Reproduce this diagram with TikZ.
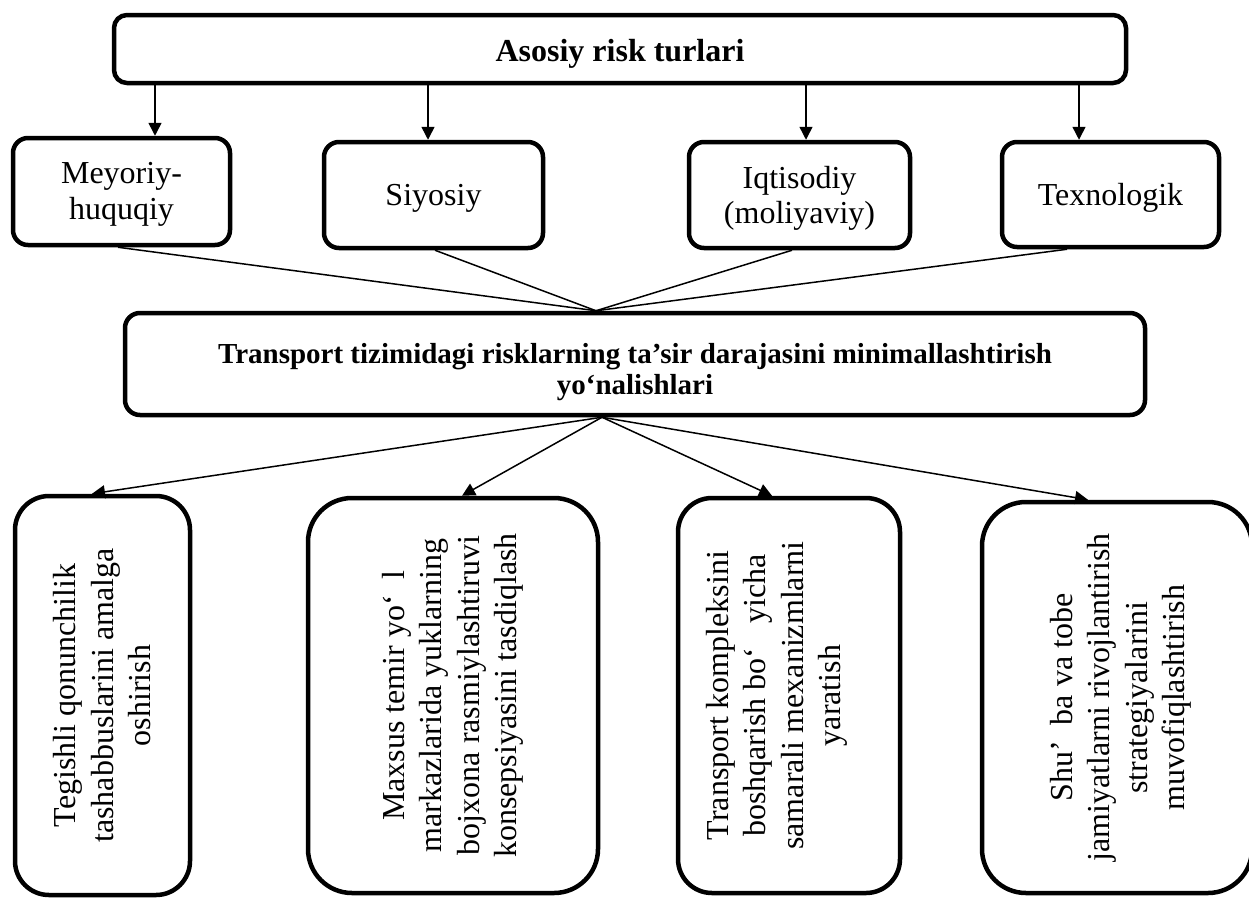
\documentclass[tikz,border=0pt]{standalone}
\usepackage{fontspec}
\setmainfont{Liberation Serif}
\usetikzlibrary{arrows.meta,calc}

% move the ink of a box without changing the size TikZ sees
\newcommand\nudge[2]{\raisebox{#1}[\height][\depth]{#2}}
% centred lines of text
\newcommand\lines[1]{\begin{tabular}{@{}c@{}}#1\end{tabular}}
% vertical (rotated) multi-line text for the tall boxes, nudged sideways
\newcommand\uptext[3]{\rotatebox{90}{\nudge{#1}{\parbox{#2}{\centering #3}}}}

\begin{document}
\begin{tikzpicture}[x=1pt,y=-1pt,
  box/.style={draw, line width=4.5pt, rounded corners=#1, inner sep=0pt,
              align=center, fill=white},
  box/.default=15pt,
  link/.style={line width=1.5pt},
  arr/.style={line width=1.5pt, -{Triangle[width=13pt,length=13pt]}},
  headfont/.style={font=\fontsize{32}{36}\selectfont\bfseries},
  midfont/.style={font=\fontsize{29}{31}\selectfont\bfseries},
  kindfont/.style={font=\fontsize{32}{35.5}\selectfont},
  wayfont/.style={font=\fontsize{32}{37.5}\selectfont}
]
\clip (0,0) rectangle (1249,897);
\fill[white] (0,0) rectangle (1249,897);

% main heading
\node[box=13pt, headfont, minimum width=1012pt, minimum height=68pt] (top) at (620,49)
  {\nudge{-5pt}{Asosiy risk turlari}};

% risk kinds
\node[box, kindfont, minimum width=217pt, minimum height=107pt] (k1) at (121.5,191.5)
  {\nudge{-3pt}{\lines{Meyoriy-\\huquqiy}}};
\node[box, kindfont, minimum width=219pt, minimum height=106pt] (k2) at (433.5,195)
  {\nudge{-3pt}{Siyosiy}};
\node[box, kindfont, minimum width=221pt, minimum height=106pt] (k3) at (799.5,195)
  {\nudge{-4pt}{\lines{Iqtisodiy\\(moliyaviy)}}};
\node[box, kindfont, minimum width=217pt, minimum height=105pt] (k4) at (1110.5,194.5)
  {\nudge{-3pt}{Texnologik}};

% central box
\node[box, midfont, minimum width=1020pt, minimum height=102pt] (mid) at (635,364)
  {\nudge{-9pt}{\lines{Transport tizimidagi risklarning ta’sir darajasini minimallashtirish\\yo‘nalishlari}}};

% directions
\node[box=34pt, wayfont, minimum width=175pt, minimum height=399pt] (w1) at (102.5,695.5)
  {\uptext{0pt}{300pt}{Tegishli qonunchilik\\tashabbuslarini amalga\\oshirish}};
\node[box=44pt, wayfont, minimum width=290pt, minimum height=395pt] (w2) at (453,695.5)
  {\uptext{0pt}{360pt}{Maxsus temir yo‘\ \ l\\markazlarida yuklarning\\bojxona rasmiylashtiruvi\\konsepsiyasini tasdiqlash}};
\node[box=34pt, wayfont, minimum width=222pt, minimum height=395pt] (w3) at (789,695.5)
  {\uptext{12pt}{340pt}{Transport kompleksini\\boshqarish bo‘\ \ \ yicha\\samarali mexanizmlarni\\yaratish}};
\node[box=44pt, wayfont, minimum width=270pt, minimum height=391pt] (w4) at (1117,697.5)
  {\uptext{-4pt}{360pt}{Shu’\ \ ba va tobe\\jamiyatlarni rivojlantirish\\strategiyalarini\\muvofiqlashtirish}};

% arrows from the heading down to the risk kinds
\coordinate (a1) at ($(k1.north)+(33.5,0)$);
\coordinate (a2) at ($(k2.north)+(-5.5,0)$);
\coordinate (a3) at ($(k3.north)+(6.5,0)$);
\coordinate (a4) at ($(k4.north)+(-31.5,0)$);
\foreach \t in {a1,a2,a3,a4}
  \draw[arr] (top.south -| \t) -- (\t);

% risk kinds converge on the central box
\coordinate (meet) at ($(mid.north)+(-39,0)$);
\draw[link] ($(k1.south)+(-3.5,0)$) -- (meet);
\draw[link] ($(k2.south)+(1.5,0)$) -- (meet);
\draw[link] ($(k3.south)+(-7.5,0)$) -- (meet);
\draw[link] ($(k4.south)+(-43.5,0)$) -- (meet);

% central box fans out to the directions
\coordinate (fan) at ($(mid.south)+(-33,0)$);
\draw[arr] (fan) -- ($(w1.north)+(-10.5,0)$);
\draw[arr] (fan) -- ($(w2.north)+(9,0)$);
\draw[arr] (fan) -- ($(w3.north)+(-17,0)$);
\draw[arr] (fan) -- ($(w4.north)+(-29,0)$);
\end{tikzpicture}
\end{document}
